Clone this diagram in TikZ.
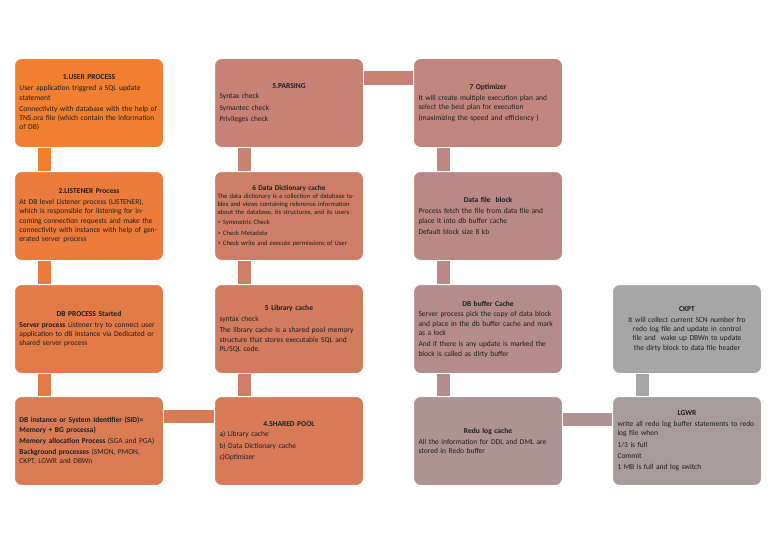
\documentclass[tikz,border=0pt]{standalone}
\usepackage{fontspec}
\setmainfont{Carlito}
\usetikzlibrary{calc}
\definecolor{txt}{HTML}{1E1E1E}
\definecolor{a1}{HTML}{F07F30}\definecolor{a2}{HTML}{EA7B3B}\definecolor{a3}{HTML}{E17A46}\definecolor{a4}{HTML}{D97C55}
\definecolor{b1}{HTML}{C88175}\definecolor{b2}{HTML}{CE7D66}\definecolor{b3}{HTML}{D37B5F}\definecolor{b4}{HTML}{D87A58}
\definecolor{c1}{HTML}{C0867E}\definecolor{c2}{HTML}{BA8985}\definecolor{c3}{HTML}{B38C8B}\definecolor{c4}{HTML}{AE9392}
\definecolor{d3}{HTML}{A6A6A6}\definecolor{d4}{HTML}{A89B9C}
\newcommand{\hd}[1]{{\centering\bfseries #1\par}\vspace{1.5pt}}
\newcommand{\pp}{\par\vspace{2pt}}
\begin{document}
\begin{tikzpicture}[x=1pt,y=-1pt,
 box/.style={rounded corners=7pt,draw=white,line width=1pt,minimum width=149pt,minimum height=89pt,inner sep=0pt,anchor=north west,
   text width=139pt,align=left,text=txt,font=\fontsize{7.5}{9.3}\selectfont},
 bar/.style={line width=13pt}]
\useasboundingbox (0,0) rectangle (768,543);
\fill[white] (0,0) rectangle (768,543);
% column 1
\node[box,fill=a1] (u) at (14,58) {\hd{1.USER PROCESS}User application triggred a SQL update statement\pp Connectivity with database with the help of TNS.ora file (which contain the information of DB)};
\node[box,fill=a2] (l) at (14,171) {\hd{2.LISTENER Process}At DB level Listener process (LISTENER), which is responsible for listening for incoming connection requests and make the connectivity with instance with help of generated server process};
\node[box,fill=a3] (p) at (14,284) {\hd{DB PROCESS Started}\textbf{Server process} Listener try to connect user application to dB instance via Dedicated or shared server process};
\node[box,fill=a4] (s) at (14,396) {\textbf{DB instance or System Identifier (SID)= Memory + BG processa)}\pp \textbf{Memory allocation Process} (SGA and PGA)\pp \textbf{Background processes} (SMON, PMON, CKPT, LGWR and DBWn};
% column 2
\node[box,fill=b1] (pa) at (214,58) {\hd{5.PARSING}Syntax check\pp Symantec check\pp Privileges check\\[8pt]};
\node[box,fill=b2,font=\fontsize{6.6}{8.2}\selectfont,text width=143pt] (dd) at (214,171) {\vspace{-2pt}\hd{\fontsize{7.3}{8}\selectfont 6 Data Dictionary cache}The data dictionary is a collection of database tables and views containing reference information about the database, its structures, and its users\pp > Symmetric Check\pp > Check Metadata\pp > Check write and execute permissions of User};
\node[box,fill=b3] (lc) at (214,284) {\hd{5 Library cache}syntax check\pp The library cache is a shared pool memory structure that stores executable SQL and PL/SQL code.};
\node[box,fill=b4] (sp) at (214,396) {\hd{4.SHARED POOL}a) Library cache\pp b) Data Dictionary cache\pp c)Optimizer\\[6pt]};
% column 3
\node[box,fill=c1] (op) at (413,58) {\hd{7 Optimizer}It will create multiple execution plan and select the best plan for execution\pp (maximizing the speed and efficiency )\\[4pt]};
\node[box,fill=c2] (df) at (413,171) {\hd{Data file\ \ block}Process fetch the file from data file and place it into db buffer cache\pp Default block size 8 kb};
\node[box,fill=c3] (bc) at (413,284) {\hd{DB buffer Cache}Server process pick the copy of data block and place in the db buffer cache and mark as a lock\pp And if there is any update is marked the block is called as dirty buffer};
\node[box,fill=c4] (rl) at (413,396) {\hd{Redu log cache}All the information for DDL and DML are stored in Redo buffer};
% column 4
\node[box,fill=d3,align=center] (ck) at (612,284) {\hd{CKPT}It will collect current SCN number fro redo log file and update in control file and\ \ wake up DBWn to update the dirty block to data file header};
\node[box,fill=d4] (lg) at (612,396) {\hd{LGWR}write all redo log buffer statements to redo log file when\pp 1/3 is full\pp Commit\pp 1 MB is full and log switch};
% connectors
\draw[bar,a1] ($(u.south west)+(30,0)$) -- ($(l.north west)+(30,0)$);
\draw[bar,a2] ($(l.south west)+(30,0)$) -- ($(p.north west)+(30,0)$);
\draw[bar,a3] ($(p.south west)+(30,0)$) -- ($(s.north west)+(30,0)$);
\draw[bar,a4] ($(s.north east)+(0,20)$) -- ($(sp.north west)+(0,20)$);
\draw[bar,b2] ($(sp.north west)+(30,0)$) -- ($(lc.south west)+(30,0)$);
\draw[bar,b2] ($(lc.north west)+(30,0)$) -- ($(dd.south west)+(30,0)$);
\draw[bar,b1] ($(dd.north west)+(30,0)$) -- ($(pa.south west)+(30,0)$);
\draw[bar,b1] ($(pa.north east)+(0,20)$) -- ($(op.north west)+(0,20)$);
\draw[bar,c1] ($(op.south west)+(30,0)$) -- ($(df.north west)+(30,0)$);
\draw[bar,c2] ($(df.south west)+(30,0)$) -- ($(bc.north west)+(30,0)$);
\draw[bar,c3] ($(bc.south west)+(30,0)$) -- ($(rl.north west)+(30,0)$);
\draw[bar,c4] ($(rl.north east)+(0,23)$) -- ($(lg.north west)+(0,23)$);
\draw[bar,d3] ($(lg.north west)+(30,0)$) -- ($(ck.south west)+(30,0)$);
\end{tikzpicture}
\end{document}
